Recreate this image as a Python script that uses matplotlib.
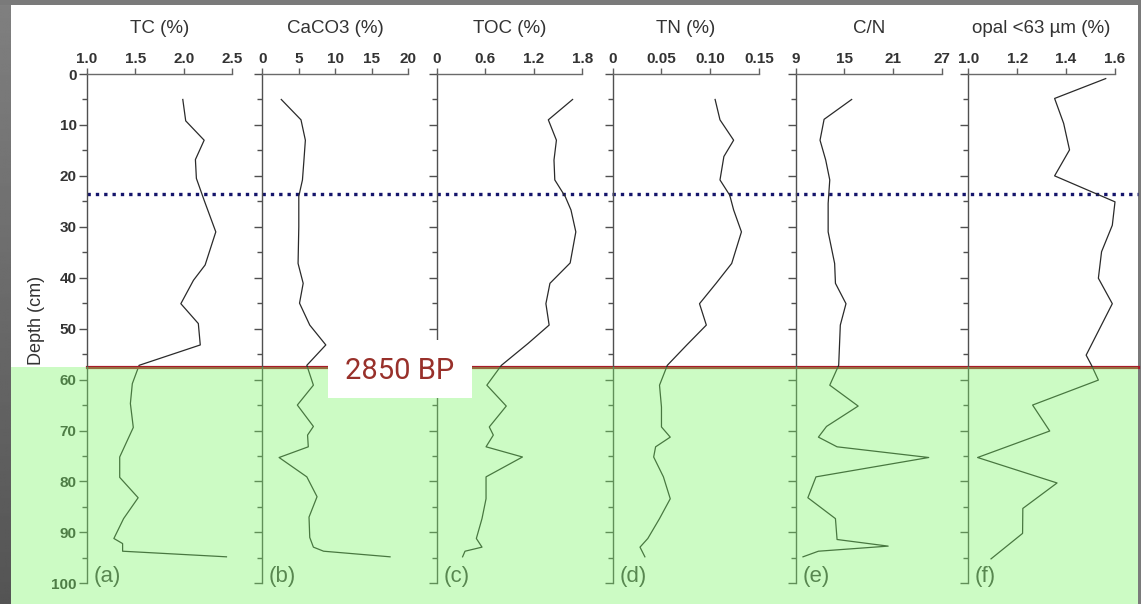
import numpy as np
import matplotlib
matplotlib.use('Agg')
import matplotlib.pyplot as plt
from matplotlib.patches import Rectangle

plt.rcParams['font.family'] = ['Liberation Sans', 'DejaVu Sans']

# ---------------- data ----------------
tc_depth = [5.0, 9.2, 13.0, 16.8, 20.5, 24.8, 31.0, 37.5, 40.5, 45.1, 49.0, 53.2,
            57.2, 60.8, 64.7, 69.4, 75.2, 79.2, 83.2, 87.3, 91.2, 92.2, 93.7, 94.8]
tc = [1.99, 2.02, 2.21, 2.12, 2.13, 2.21, 2.33, 2.22, 2.10, 1.97, 2.15, 2.17,
      1.54, 1.47, 1.45, 1.48, 1.34, 1.34, 1.53, 1.38, 1.28, 1.37, 1.37, 2.44]

caco3_depth = [5.0, 9.0, 13.0, 17.0, 20.8, 24.0, 30.0, 37.2, 41.1, 45.0, 49.3, 53.2,
               57.2, 61.1, 65.0, 69.2, 70.9, 73.2, 75.3, 79.1, 83.0, 87.0, 91.0,
               92.9, 93.7, 94.8]
caco3 = [2.6, 5.3, 5.9, 5.7, 5.5, 5.0, 5.0, 4.9, 5.6, 5.1, 6.5, 8.7,
         6.1, 7.0, 4.8, 7.0, 6.2, 6.3, 2.3, 6.1, 7.5, 6.4, 6.5,
         7.0, 8.4, 17.5]

toc_depth = [5.0, 9.0, 13.0, 16.9, 20.8, 24.1, 26.7, 31.0, 37.1, 41.1, 45.1, 49.3,
             52.9, 57.2, 61.1, 65.2, 69.3, 70.9, 73.2, 75.2, 79.1, 83.4, 87.3,
             91.2, 92.9, 93.7, 94.8]
toc = [1.68, 1.38, 1.48, 1.45, 1.46, 1.59, 1.66, 1.72, 1.65, 1.40, 1.35, 1.39,
       1.13, 0.80, 0.62, 0.86, 0.65, 0.70, 0.61, 1.06, 0.61, 0.61, 0.56,
       0.49, 0.56, 0.35, 0.32]

tn_depth = [5.0, 9.0, 13.0, 16.2, 20.8, 23.8, 26.7, 31.0, 37.2, 41.1, 45.1, 49.3,
            53.2, 57.2, 61.1, 65.4, 69.3, 71.3, 73.2, 75.2, 79.1, 83.4, 87.3,
            91.2, 92.9, 94.8]
tn = [0.105, 0.110, 0.124, 0.114, 0.110, 0.120, 0.124, 0.132, 0.122, 0.106, 0.089, 0.096,
      0.076, 0.056, 0.048, 0.050, 0.050, 0.059, 0.044, 0.042, 0.052, 0.059, 0.048,
      0.036, 0.028, 0.033]

cn_depth = [5.0, 8.9, 13.0, 16.9, 20.8, 25.4, 31.0, 37.2, 41.1, 45.1, 49.3, 57.2,
            61.1, 65.2, 69.2, 71.3, 73.2, 75.3, 79.1, 83.2, 87.3, 91.4, 92.7,
            93.7, 94.8]
cn = [15.9, 12.5, 12.0, 12.7, 13.2, 13.0, 13.0, 13.8, 13.9, 15.2, 14.5, 14.3,
      13.2, 16.7, 12.8, 11.8, 14.1, 25.4, 11.5, 10.5, 13.9, 14.1, 20.4,
      11.8, 9.9]

opal_depth = [0.9, 4.8, 9.7, 14.9, 20.0, 25.1, 29.7, 34.9, 40.1, 45.1, 55.2, 57.2,
              60.1, 65.0, 70.1, 75.3, 80.3, 85.3, 90.2, 95.2]
opal = [1.562, 1.353, 1.390, 1.414, 1.353, 1.600, 1.589, 1.545, 1.532, 1.589, 1.482, 1.504,
        1.532, 1.263, 1.333, 1.038, 1.363, 1.223, 1.222, 1.093]

titles = ['TC (%)', 'CaCO3 (%)', 'TOC (%)', 'TN (%)', 'C/N', 'opal <63 µm (%)']
panel_tags = ['(a)', '(b)', '(c)', '(d)', '(e)', '(f)']
x_ticks = [[1.0, 1.5, 2.0, 2.5], [0, 5, 10, 15, 20], [0, 0.6, 1.2, 1.8],
           [0, 0.05, 0.10, 0.15], [9, 15, 21, 27], [1.0, 1.2, 1.4, 1.6]]
x_ticklabels = [['1.0', '1.5', '2.0', '2.5'], ['0', '5', '10', '15', '20'],
                ['0', '0.6', '1.2', '1.8'], ['0', '0.05', '0.10', '0.15'],
                ['9', '15', '21', '27'], ['1.0', '1.2', '1.4', '1.6']]
series_x = [tc, caco3, toc, tn, cn, opal]
series_depth = [tc_depth, caco3_depth, toc_depth, tn_depth, cn_depth, opal_depth]
depth_ticks = list(range(0, 101, 10))
boundary_depth = 57.45       # 2850 BP
dotted_depth = 23.6
boundary_label = '2850 BP'

# ---------------- layout ----------------
W, H = 1141, 604
fig = plt.figure(figsize=(W / 100, H / 100), dpi=100, facecolor='#7a7a7a')
fig.add_artist(Rectangle((11 / W, 0), (1138 - 11) / W, (H - 5) / H,
                         transform=fig.transFigure, facecolor='white',
                         edgecolor='none', zorder=-10))
gax = fig.add_axes([0, 0, 11 / W, 1 - 5 / H], zorder=-5)
gax.imshow(np.linspace(0.50, 0.33, 200)[:, None], cmap='gray', vmin=0, vmax=1,
           aspect='auto')
gax.axis('off')

top_px, bot_px = 74.0, 583.3
bottom = 1 - bot_px / H
height = (bot_px - top_px) / H
lefts = [86.7, 262.3, 436.7, 612.7, 795.7, 968.3]
widths = [145.6, 146.0, 145.6, 146.3, 146.0, 146.7]

axes = []
for i in range(6):
    ax = fig.add_axes([lefts[i] / W, bottom, widths[i] / W, height])
    ax.patch.set_visible(False)
    ax.set_xlim(x_ticks[i][0], x_ticks[i][-1])
    ax.set_ylim(100, 0)
    for s in ['right', 'bottom']:
        ax.spines[s].set_visible(False)
    ax.spines['left'].set_color('#505050')
    ax.spines['left'].set_linewidth(1.0)
    ax.spines['top'].set_color('#6a6a6a')
    ax.spines['top'].set_linewidth(1.0)
    ax.xaxis.tick_top()
    ax.set_xticks(x_ticks[i])
    ax.set_xticklabels(x_ticklabels[i], fontweight='bold')
    ax.tick_params(axis='x', direction='out', length=4.5, width=1.0, pad=1.5,
                   labelsize=11, color='#606060', labelcolor='#333333')
    ax.set_yticks(depth_ticks)
    ax.set_yticks(range(5, 100, 10), minor=True)
    ax.tick_params(axis='y', which='major', direction='out', length=5.8, width=1.0,
                   pad=1.5, labelsize=11, color='#505050', labelcolor='#333333')
    ax.tick_params(axis='y', which='minor', direction='out', length=3.6, width=1.0,
                   color='#505050')
    if i == 0:
        ax.set_yticklabels([str(d) for d in depth_ticks], fontweight='bold')
    else:
        ax.tick_params(axis='y', labelleft=False)
    ax.plot(series_x[i], series_depth[i], color='#2a2a2a', lw=0.9, clip_on=False)
    ax.text(0.5, 1.09, titles[i], transform=ax.transAxes, ha='center', va='center',
            fontsize=13.5, color='#333333')
    ax.text(0.045, 0.0124, panel_tags[i], transform=ax.transAxes, ha='left',
            va='center', fontsize=16, color='#444444')
    axes.append(ax)

ax0 = axes[0]
ax0.text(-0.348, 0.517, 'Depth (cm)', transform=ax0.transAxes, rotation=90,
         ha='center', va='center', fontsize=13, color='#333333')
span = (1138 - lefts[0]) / widths[0]
ax0.axhline(dotted_depth, xmin=0, xmax=span, color='#14146b', lw=2.4,
            linestyle=(0, (1, 1.5)), dash_capstyle='butt', clip_on=False)
ax0.axhline(boundary_depth, xmin=0, xmax=span, color='#a81a2a', lw=2.3,
            clip_on=False)

# translucent green overlay for the section below 2850 BP
ov = fig.add_axes([11 / W, bottom, (1138 - 11) / W, height], zorder=5)
ov.set_ylim(100, 0)
ov.set_xlim(0, 1)
ov.axis('off')
ov.axhspan(57.6, 105, color=(123 / 255, 247 / 255, 102 / 255), alpha=0.38, lw=0,
           clip_on=False)

# label box
fig.add_artist(Rectangle((328 / W, 1 - 398 / H), 144 / W, 58 / H,
                         transform=fig.transFigure, facecolor='white',
                         edgecolor='none', zorder=6))
fig.text(400 / W, 1 - 371 / H, boundary_label, ha='center', va='center',
         fontsize=21, color='#98302a', zorder=7,
         family=['Liberation Sans Narrow', 'Roboto', 'DejaVu Sans'])

fig.savefig('out.png', dpi=100, facecolor=fig.get_facecolor())
